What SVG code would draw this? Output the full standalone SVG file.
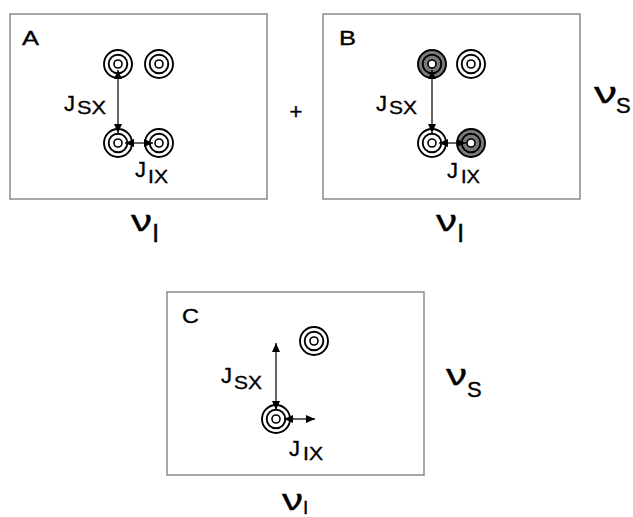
<svg xmlns="http://www.w3.org/2000/svg" width="633" height="517" viewBox="0 0 633 517">
<defs>
<style>
.box{fill:#fff;stroke:#8a8a8a;stroke-width:1.5}
.ring{fill:none;stroke:#000;stroke-width:1.9}
.dot{fill:#fff;stroke:#000;stroke-width:1.6}
.gray{fill:#7a7a7a}
.arr{stroke:#111;stroke-width:1.3;fill:none;marker-start:url(#ah);marker-end:url(#ah)}
.t{font-family:"Liberation Sans",Arial,sans-serif;fill:#000;stroke:#000;stroke-width:0.35}
</style>
<marker id="ah" viewBox="0 0 9 8" refX="9" refY="4" markerWidth="9" markerHeight="8" markerUnits="userSpaceOnUse" orient="auto-start-reverse">
<path d="M0,0 L9,4 L0,8 z" fill="#000"/>
</marker>
<g id="mult">
<circle class="ring" r="14"/>
<circle class="ring" r="9.3"/>
<circle class="dot" r="4"/>
</g>
<g id="multg">
<circle class="gray" r="14.5"/>
<circle class="ring" r="14"/>
<circle class="ring" r="9.3"/>
<circle class="dot" r="4"/>
</g>
</defs>
<rect width="633" height="517" fill="#fff"/>

<g id="panelA">
<rect class="box" x="10" y="14" width="257" height="185"/>
<text class="t" x="22" y="45" font-size="21" textLength="17" lengthAdjust="spacingAndGlyphs">A</text>
<use id="A-tl" href="#mult" x="118" y="64"/>
<use id="A-tr" href="#mult" x="159" y="64"/>
<use id="A-bl" href="#mult" x="118" y="143"/>
<use id="A-br" href="#mult" x="159" y="143"/>
<text class="t" x="64" y="111" font-size="22">J<tspan x="77" y="114" font-size="19" textLength="29" lengthAdjust="spacingAndGlyphs">SX</tspan></text>
<text class="t" x="135" y="177" font-size="22">J<tspan x="148" y="183" font-size="19" textLength="20" lengthAdjust="spacingAndGlyphs">IX</tspan></text>
<text class="t" x="131" y="231" font-size="30" textLength="21" lengthAdjust="spacingAndGlyphs">ν</text>
<text class="t" x="152" y="242" font-size="26">I</text>
</g>

<text id="plus" class="t" x="296" y="119" font-size="22" text-anchor="middle">+</text>

<g id="panelB">
<rect class="box" x="323" y="14" width="257" height="185"/>
<text class="t" x="339" y="45" font-size="21" textLength="17" lengthAdjust="spacingAndGlyphs">B</text>
<use id="B-tl" href="#multg" x="432" y="64"/>
<use id="B-tr" href="#mult" x="471" y="64"/>
<use id="B-bl" href="#mult" x="432" y="143"/>
<use id="B-br" href="#multg" x="471" y="143"/>
<text class="t" x="376" y="111" font-size="22">J<tspan x="389" y="114" font-size="19" textLength="28" lengthAdjust="spacingAndGlyphs">SX</tspan></text>
<text class="t" x="447" y="178" font-size="22">J<tspan x="461" y="183" font-size="19" textLength="19" lengthAdjust="spacingAndGlyphs">IX</tspan></text>
<text class="t" x="436" y="231" font-size="30" textLength="21" lengthAdjust="spacingAndGlyphs">ν</text>
<text class="t" x="457" y="242" font-size="26">I</text>
<text class="t" x="594" y="103" font-size="30" textLength="23" lengthAdjust="spacingAndGlyphs">ν</text>
<text class="t" x="616" y="113" font-size="22">S</text>
</g>

<g id="panelC">
<rect class="box" x="167" y="292" width="257" height="183"/>
<text class="t" x="182" y="323" font-size="21" textLength="17" lengthAdjust="spacingAndGlyphs">C</text>
<use id="C-t" href="#mult" x="314" y="341"/>
<use id="C-b" href="#mult" x="276" y="419"/>
<text class="t" x="221" y="383" font-size="22">J<tspan x="234" y="389" font-size="19" textLength="28" lengthAdjust="spacingAndGlyphs">SX</tspan></text>
<text class="t" x="289" y="456" font-size="22">J<tspan x="303" y="460" font-size="19" textLength="20" lengthAdjust="spacingAndGlyphs">IX</tspan></text>
<text class="t" x="446" y="385" font-size="30" textLength="21" lengthAdjust="spacingAndGlyphs">ν</text>
<text class="t" x="467" y="397" font-size="22">S</text>
<text class="t" x="282" y="510" font-size="30" textLength="21" lengthAdjust="spacingAndGlyphs">ν</text>
<text class="t" x="303" y="514" font-size="19">I</text>
</g>

<g id="connectors">
<line class="arr" x1="118" y1="70" x2="118" y2="133"/>
<line class="arr" x1="125" y1="143" x2="153" y2="143"/>
<line class="arr" x1="432" y1="70" x2="432" y2="133"/>
<line class="arr" x1="439" y1="143" x2="466" y2="143"/>
<line class="arr" x1="276" y1="343" x2="276" y2="410"/>
<line class="arr" x1="284" y1="419" x2="315" y2="419"/>
</g>
</svg>
